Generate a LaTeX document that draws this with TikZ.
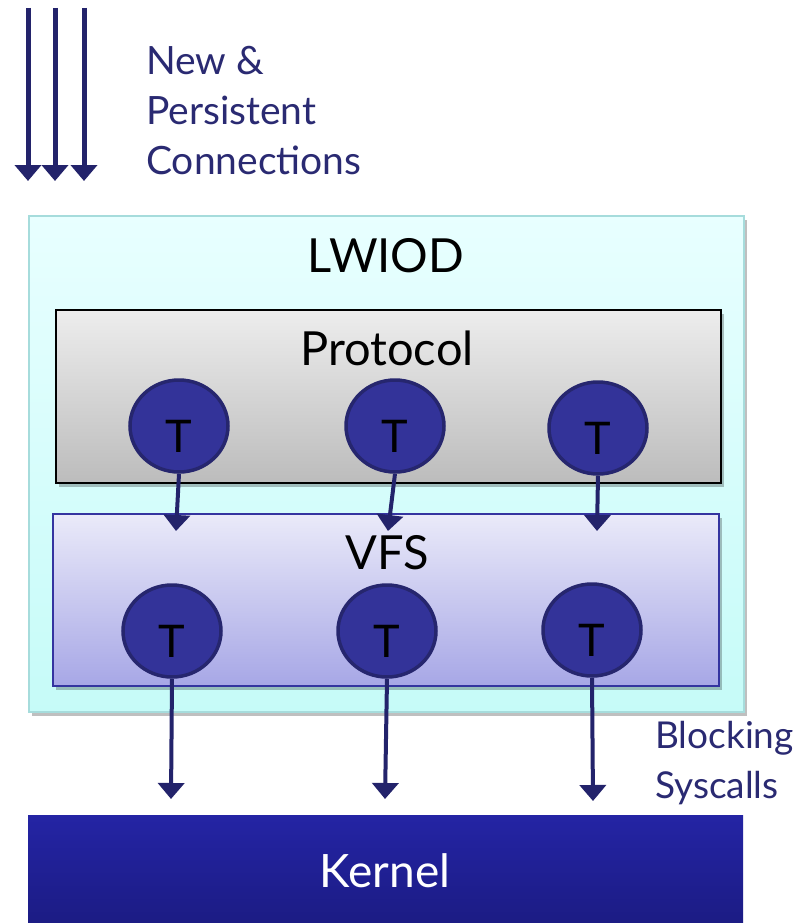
\documentclass[tikz,border=0pt]{standalone}
\usepackage{fontspec}
\setmainfont{Lato}
\usetikzlibrary{arrows.meta,shapes.geometric,shadows}

\definecolor{navy}{HTML}{23236B}
\definecolor{navytext}{HTML}{2A2A72}
\definecolor{thread}{HTML}{333399}
\definecolor{threadrim}{HTML}{26266E}
\definecolor{lwtop}{HTML}{E8FFFF}
\definecolor{lwbot}{HTML}{C6FBF8}
\definecolor{lwrim}{HTML}{A6DCDC}
\definecolor{prtop}{HTML}{EDEDED}
\definecolor{prbot}{HTML}{BCBCBC}
\definecolor{vftop}{HTML}{EAEAF9}
\definecolor{vfbot}{HTML}{A7A7E6}
\definecolor{vfrim}{HTML}{3434A0}
\definecolor{krtop}{HTML}{2424A4}
\definecolor{krbot}{HTML}{1B1B82}

\tikzset{
  flow/.style={draw=navy, line width=4pt, -{Triangle[width=26pt,length=16pt]}},
  bigflow/.style={flow, line width=5pt},
  thr/.style={ellipse, draw=threadrim, line width=3.5pt, fill=thread,
    minimum width=98pt, minimum height=92pt, inner sep=0pt,
    font=\fontsize{45}{45}\selectfont, text height=52pt, text depth=0pt},
  layer/.style={rectangle, inner sep=0pt, anchor=north west},
  soft/.style={drop shadow={shadow xshift=3pt, shadow yshift=-4pt, opacity=0.25, fill=black}},
  boxlabel/.style={font=\fontsize{47}{47}\selectfont, anchor=base, inner sep=0pt},
  note/.style={text=navytext, align=left, inner sep=0pt, anchor=north west}
}

\begin{document}
\begin{tikzpicture}[x=1pt,y=-1pt]
  \useasboundingbox (0,0) rectangle (808,923);
  \fill[white] (0,0) rectangle (808,923);

  % incoming connections
  \foreach \i/\x in {1/28,2/55,3/84}{
    \coordinate (in\i s) at (\x,8);
    \coordinate (in\i e) at (\x,181);
    \draw[bigflow] (in\i s) -- (in\i e);
  }
  \node[note, font=\fontsize{39}{50}\selectfont] (conn) at (146,46)
    {New \&\\Persistent\\Connections};

  % LWIOD container
  \node[layer, soft, draw=lwrim, line width=1.5pt, top color=lwtop, bottom color=lwbot,
        minimum width=715pt, minimum height=496pt] (lwiod) at (28,215) {};
  \node[boxlabel] (lwiodlbl) at (386,272) {LWIOD};

  % protocol layer
  \node[layer, soft, draw=black, line width=2pt, top color=prtop, bottom color=prbot,
        minimum width=665pt, minimum height=173pt] (proto) at (55,309) {};
  \node[boxlabel] (protolbl) at (387,365) {Protocol};

  % VFS layer
  \node[layer, soft, draw=vfrim, line width=1.5pt, top color=vftop, bottom color=vfbot,
        minimum width=666pt, minimum height=172pt] (vfs) at (52,513) {};
  \node[boxlabel] (vfslbl) at (387,569) {VFS};

  % kernel
  \node[layer, draw=none, top color=krtop, bottom color=krbot,
        minimum width=715pt, minimum height=115pt] (kernel) at (28,815) {};
  \node[boxlabel, text=white, font=\fontsize{46}{46}\selectfont] (kernellbl) at (385,887) {Kernel};

  % arrow ends
  \coordinate (pa1) at (176,531);
  \coordinate (pa2) at (388,531);
  \coordinate (pa3) at (597,531);
  \coordinate (ka1) at (171,799);
  \coordinate (ka2) at (385,799);
  \coordinate (ka3) at (593,801);

  % protocol threads handing off to VFS
  \node[thr] (p1) at (179,426) {T};
  \node[thr] (p2) at (395,426) {T};
  \node[thr] (p3) at (598,428) {T};
  \draw[flow] (p1.south) -- (pa1);
  \draw[flow] (p2.south) -- (pa2);
  \draw[flow] (p3.south) -- (pa3);

  % VFS threads issuing syscalls
  \node[thr] (v1) at (172,631) {T};
  \node[thr] (v2) at (387,631) {T};
  \node[thr] (v3) at (592,630) {T};
  \draw[flow] (v1.south) -- (ka1);
  \draw[flow] (v2.south) -- (ka2);
  \draw[flow] (v3.south) -- (ka3);

  \node[note, font=\fontsize{37}{50}\selectfont] (sys) at (655,721)
    {Blocking\\Syscalls};
\end{tikzpicture}
\end{document}
